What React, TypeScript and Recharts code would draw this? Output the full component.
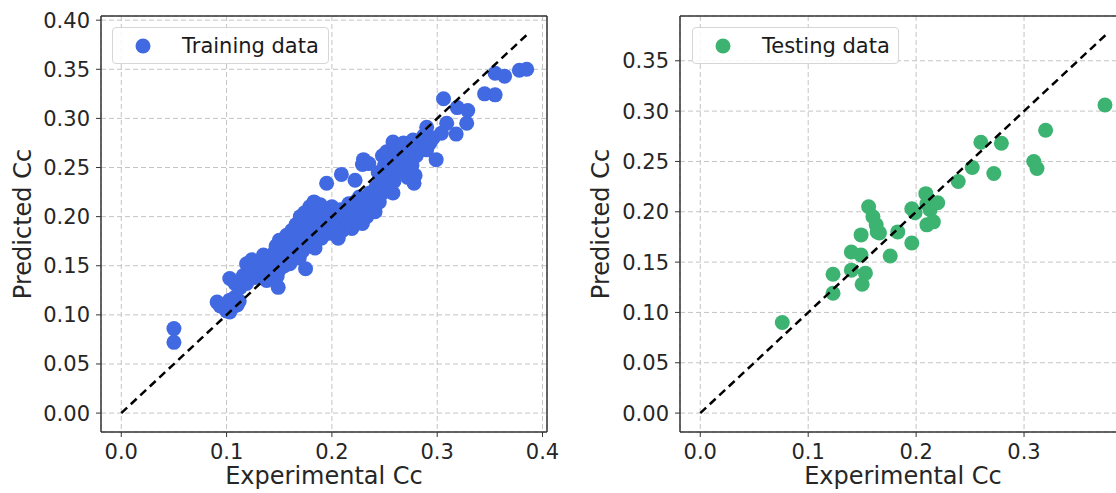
import React from "react";
import {
  CartesianGrid,
  ReferenceLine,
  Scatter,
  ScatterChart,
  XAxis,
  YAxis,
} from "recharts";

// [experimental, predicted]
const trainingPoints: [number, number][] = [
  [0.05, 0.086], [0.05, 0.072],
  [0.091, 0.113], [0.094, 0.109], [0.1, 0.104], [0.103, 0.115], [0.103, 0.103],
  [0.108, 0.118], [0.11, 0.11], [0.106, 0.108], [0.112, 0.114],
  [0.103, 0.137], [0.108, 0.132], [0.113, 0.128], [0.119, 0.132], [0.116, 0.14],
  [0.119, 0.152], [0.124, 0.156], [0.124, 0.145], [0.127, 0.138], [0.131, 0.142],
  [0.133, 0.15], [0.135, 0.161], [0.138, 0.135], [0.137, 0.147], [0.141, 0.144],
  [0.141, 0.156], [0.144, 0.15], [0.145, 0.163], [0.149, 0.128], [0.148, 0.139],
  [0.15, 0.146], [0.147, 0.17], [0.15, 0.176], [0.152, 0.157], [0.153, 0.165],
  [0.155, 0.15], [0.156, 0.172], [0.157, 0.181], [0.158, 0.16], [0.16, 0.152],
  [0.161, 0.168], [0.162, 0.186], [0.163, 0.176], [0.164, 0.16], [0.166, 0.192],
  [0.167, 0.17], [0.168, 0.181], [0.169, 0.158], [0.17, 0.2], [0.171, 0.19],
  [0.172, 0.165], [0.173, 0.176], [0.174, 0.204], [0.175, 0.147], [0.176, 0.185],
  [0.177, 0.196], [0.178, 0.17], [0.179, 0.21], [0.18, 0.178], [0.181, 0.2],
  [0.182, 0.19], [0.183, 0.215], [0.184, 0.168], [0.185, 0.176], [0.186, 0.205],
  [0.187, 0.195], [0.188, 0.185], [0.189, 0.212], [0.19, 0.178], [0.191, 0.2],
  [0.193, 0.19], [0.195, 0.234], [0.196, 0.206], [0.197, 0.183], [0.198, 0.196],
  [0.2, 0.21], [0.201, 0.19], [0.203, 0.2], [0.204, 0.182], [0.206, 0.178],
  [0.207, 0.195], [0.208, 0.207], [0.209, 0.243], [0.21, 0.186], [0.212, 0.2],
  [0.214, 0.208], [0.215, 0.192], [0.216, 0.213], [0.218, 0.198], [0.219, 0.188],
  [0.22, 0.205], [0.222, 0.237], [0.222, 0.215], [0.224, 0.195], [0.226, 0.22],
  [0.227, 0.207], [0.229, 0.193], [0.229, 0.253], [0.23, 0.258], [0.231, 0.213],
  [0.233, 0.2], [0.235, 0.254], [0.236, 0.224], [0.237, 0.21], [0.239, 0.218],
  [0.241, 0.205], [0.242, 0.23], [0.244, 0.245], [0.245, 0.215], [0.246, 0.236],
  [0.248, 0.262], [0.249, 0.225], [0.25, 0.252], [0.252, 0.266], [0.252, 0.234],
  [0.254, 0.244], [0.256, 0.257], [0.258, 0.224], [0.258, 0.276], [0.259, 0.236],
  [0.26, 0.265], [0.262, 0.248], [0.264, 0.272], [0.266, 0.255], [0.268, 0.275],
  [0.268, 0.246], [0.27, 0.262], [0.272, 0.24], [0.274, 0.268], [0.276, 0.252],
  [0.277, 0.278], [0.278, 0.234], [0.279, 0.242], [0.28, 0.262], [0.282, 0.275],
  [0.285, 0.268], [0.287, 0.282], [0.29, 0.291], [0.29, 0.268], [0.293, 0.275],
  [0.296, 0.28], [0.299, 0.258], [0.304, 0.285], [0.306, 0.32], [0.309, 0.295],
  [0.318, 0.284], [0.319, 0.311], [0.328, 0.295], [0.329, 0.308], [0.345, 0.325],
  [0.355, 0.324], [0.355, 0.346], [0.364, 0.343], [0.378, 0.349], [0.385, 0.35],
];

const testingPoints: [number, number][] = [
  [0.076, 0.09], [0.123, 0.138], [0.123, 0.119], [0.14, 0.16], [0.14, 0.142],
  [0.149, 0.177], [0.149, 0.157], [0.153, 0.139], [0.15, 0.128], [0.156, 0.205],
  [0.16, 0.195], [0.163, 0.187], [0.164, 0.18], [0.166, 0.179], [0.176, 0.156],
  [0.183, 0.18], [0.196, 0.203], [0.199, 0.199], [0.196, 0.169], [0.209, 0.218],
  [0.21, 0.208], [0.213, 0.202], [0.21, 0.187], [0.216, 0.19], [0.22, 0.209],
  [0.239, 0.23], [0.252, 0.244], [0.26, 0.269], [0.272, 0.238], [0.279, 0.268],
  [0.309, 0.25], [0.312, 0.243], [0.32, 0.281], [0.375, 0.306],
];

const trainingDiagonal = [0, 0.385];
const testingDiagonal = [0, 0.3757];

const trainTicksX = [0, 0.1, 0.2, 0.3, 0.4];
const trainTicksY = [0, 0.05, 0.1, 0.15, 0.2, 0.25, 0.3, 0.35, 0.4];
const testTicksX = [0, 0.1, 0.2, 0.3];
const testTicksY = [0, 0.05, 0.1, 0.15, 0.2, 0.25, 0.3, 0.35];

const FONT = "DejaVu Sans";
const INK = "#262626";
const SPINE = "#333333";

const toXY = (pts: [number, number][]) => pts.map(([x, y]) => ({ x, y }));
const toDiag = (d: number[]) => d.map((v) => ({ x: v, y: v }));

const dot = (color: string) => (props: any) =>
  <circle cx={props.cx} cy={props.cy} r={7.5} fill={color} />;

function Panel({
  points,
  diagonal,
  ticksX,
  ticksY,
  color,
  legend,
  left,
  width,
  axisWidth,
  yLabelOffset,
  legendLeft,
  legendWidth,
}: any) {
  // matplotlib-style 5% margins around the diagonal's range
  const max = diagonal[1];
  const pad = max * 0.05;
  const domain: [number, number] = [-pad, max + pad];
  const tickStyle = { fontSize: 21, fill: INK, fontFamily: FONT };
  return (
    <div style={{ position: "absolute", left, top: 0, width, height: 493 }}>
      <ScatterChart
        width={width}
        height={493}
        margin={{ top: 16, right: 14, bottom: 0, left: 0 }}
      >
        <CartesianGrid stroke="#c4c4c4" strokeDasharray="5 3" />
        <XAxis
          type="number"
          dataKey="x"
          domain={domain}
          ticks={ticksX}
          allowDataOverflow
          tickFormatter={(v) => v.toFixed(1)}
          height={61}
          tick={tickStyle}
          tickSize={5}
          tickMargin={7}
          stroke={SPINE}
          axisLine={{ stroke: SPINE, strokeWidth: 1.5 }}
          label={{
            value: "Experimental Cc",
            position: "insideBottom",
            offset: 9,
            style: { fontSize: 24, fill: INK, fontFamily: FONT },
          }}
        />
        <YAxis
          type="number"
          dataKey="y"
          domain={domain}
          ticks={ticksY}
          allowDataOverflow
          tickFormatter={(v) => v.toFixed(2)}
          width={axisWidth}
          tick={tickStyle}
          tickSize={5}
          tickMargin={6}
          stroke={SPINE}
          axisLine={{ stroke: SPINE, strokeWidth: 1.5 }}
          label={{
            value: "Predicted Cc",
            angle: -90,
            position: "insideLeft",
            offset: yLabelOffset,
            style: { fontSize: 24, fill: INK, fontFamily: FONT, textAnchor: "middle" },
          }}
        />
        <ReferenceLine y={domain[1]} stroke={SPINE} strokeWidth={1.5} />
        <ReferenceLine x={domain[1]} stroke={SPINE} strokeWidth={1.5} />
        <Scatter
          data={toXY(points)}
          fill={color}
          shape={dot(color)}
          isAnimationActive={false}
        />
        <Scatter
          data={toDiag(diagonal)}
          fill="#000"
          line={{ stroke: "#000", strokeWidth: 2.5, strokeDasharray: "8 5" }}
          shape={() => <g />}
          isAnimationActive={false}
        />
      </ScatterChart>
      <div
        style={{
          position: "absolute",
          left: legendLeft,
          top: 27,
          width: legendWidth,
          height: 37,
          boxSizing: "border-box",
          border: "1px solid #d6d6d6",
          borderRadius: 4,
          background: "rgba(255,255,255,0.85)",
          display: "flex",
          alignItems: "center",
          fontFamily: FONT,
          fontSize: 21,
          color: "#1a1a1a",
        }}
      >
        <svg width={60} height={36} style={{ flex: "none" }}>
          <circle cx={30} cy={18} r={7.5} fill={color} />
        </svg>
        <span style={{ marginLeft: 9, whiteSpace: "nowrap" }}>{legend}</span>
      </div>
    </div>
  );
}

export default function App() {
  return (
    <div
      style={{
        position: "absolute",
        left: 0,
        top: 0,
        width: 1116,
        height: 493,
        overflow: "hidden",
        background: "#fff",
      }}
    >
      <Panel
        points={trainingPoints}
        diagonal={trainingDiagonal}
        ticksX={trainTicksX}
        ticksY={trainTicksY}
        color="#4169E1"
        legend="Training data"
        left={0}
        width={561}
        axisWidth={101}
        yLabelOffset={22}
        legendLeft={112}
        legendWidth={217}
      />
      <Panel
        points={testingPoints}
        diagonal={testingDiagonal}
        ticksX={testTicksX}
        ticksY={testTicksY}
        color="#3CB371"
        legend="Testing data"
        left={560}
        width={580}
        axisWidth={120}
        yLabelOffset={40}
        legendLeft={132}
        legendWidth={207}
      />
    </div>
  );
}
